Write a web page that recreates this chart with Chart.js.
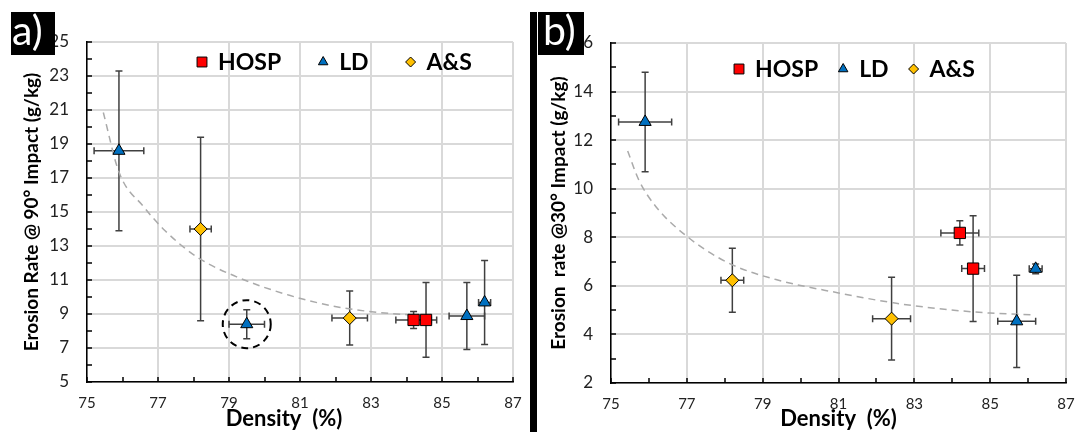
<!DOCTYPE html>
<html>
<head>
<meta charset="utf-8">
<script src="https://cdn.jsdelivr.net/npm/chart.js@4.4.0/dist/chart.umd.min.js"></script>
<style>
  body { margin: 0; background: #fff; width: 1075px; height: 432px; position: relative; overflow: hidden; }
  canvas { position: absolute; top: 0; }
  #chartA { left: 0; }
  #chartB { left: 537px; }
  .divider { position: absolute; left: 530px; top: 12px; width: 7px; height: 420px; background: #000; }
  .tag { position: absolute; top: 12px; height: 43px; background: #000; }
  .tag span { position: absolute; top: -6px; color: #fff; font-family: Lato, sans-serif; font-size: 41px; line-height: 48px; white-space: nowrap; }
</style>
</head>
<body>
<canvas id="chartA" width="530" height="432"></canvas>
<canvas id="chartB" width="538" height="432"></canvas>
<div class="divider"></div>
<div class="tag" style="left:11px;width:44px"><span style="left:1px">a)</span></div>
<div class="tag" style="left:538px;width:46px"><span style="left:5px">b)</span></div>
<script>
// density (%) of each sample, with its error
const densityHOSP = [84.2, 84.55];
const densityErrHOSP = [0.5, 0.3];
const densityLD = [75.9, 79.5, 85.7, 86.2];
const densityErrLD = [0.7, 0.5, 0.5, 0.17];
const densityAS = [78.2, 82.4];
const densityErrAS = [0.3, 0.5];

// erosion rate at 90 deg impact (g/kg)
const rate90HOSP = [8.65, 8.65];
const rate90ErrHOSP = [0.5, 2.2];
const rate90LD = [18.6, 8.4, 8.88, 9.68];
const rate90ErrLD = [4.7, 0.85, 1.97, 2.47];
const rate90AS = [14.0, 8.76];
const rate90ErrAS = [5.4, 1.59];

// erosion rate at 30 deg impact (g/kg), LD at 79.5% not tested
const rate30HOSP = [8.18, 6.71];
const rate30ErrHOSP = [0.5, 2.18];
const rate30LD = [12.75, null, 4.54, 6.7];
const rate30ErrLD = [2.05, null, 1.9, 0.2];
const rate30AS = [6.23, 4.65];
const rate30ErrAS = [1.32, 1.7];

// dashed trend lines
const fit90Density = [75.46, 75.9, 76.6, 77.2, 78.1, 79.2, 80.7, 82.1, 83.6, 84.35];
const fit90Rate = [20.85, 17.35, 15.3, 13.9, 12.35, 11.2, 10.1, 9.4, 9.02, 8.93];
const fit30Density = [75.44, 75.73, 76.18, 77.0, 78.1, 79.35, 81.0, 82.45, 83.9, 85.0, 86.1];
const fit30Rate = [11.55, 10.37, 9.27, 8.04, 6.94, 6.26, 5.71, 5.30, 5.02, 4.88, 4.81];

// tick labels
const xTicks = [75, 77, 79, 81, 83, 85, 87];
const yTicks90 = [5, 7, 9, 11, 13, 15, 17, 19, 21, 23, 25];
const yTicks30 = [2, 4, 6, 8, 10, 12, 14, 16];

const seriesNames = ['HOSP', 'LD', 'A&S'];

function toPoints(xs, xe, ys, ye) {
  return xs.map((x, i) => ({ x: x, y: ys[i], ex: xe[i], ey: ye[i] })).filter(p => p.y !== null);
}

function drawMarker(ctx, style, x, y, r) {
  ctx.beginPath();
  if (style === 'rect') {
    const h = r * Math.SQRT1_2;
    ctx.rect(x - h, y - h, 2 * h, 2 * h);
  } else if (style === 'triangle') {
    ctx.moveTo(x, y - r);
    ctx.lineTo(x + r * 0.866, y + r * 0.5);
    ctx.lineTo(x - r * 0.866, y + r * 0.5);
    ctx.closePath();
  } else {
    ctx.moveTo(x, y - r);
    ctx.lineTo(x + r, y);
    ctx.lineTo(x, y + r);
    ctx.lineTo(x - r, y);
    ctx.closePath();
  }
  ctx.fill();
  ctx.stroke();
}

const errorBars = {
  id: 'errorBars',
  beforeDatasetsDraw(chart) {
    const { ctx, scales: { x, y } } = chart;
    const cap = 3.5;
    ctx.save();
    ctx.strokeStyle = '#404040';
    ctx.lineWidth = 1.5;
    chart.data.datasets.forEach(ds => {
      if (!ds.inLegend) return;
      ds.data.forEach(p => {
        const cx = x.getPixelForValue(p.x), cy = y.getPixelForValue(p.y);
        const x0 = x.getPixelForValue(p.x - p.ex), x1 = x.getPixelForValue(p.x + p.ex);
        const y0 = y.getPixelForValue(p.y + p.ey), y1 = y.getPixelForValue(p.y - p.ey);
        ctx.beginPath();
        ctx.moveTo(x0, cy); ctx.lineTo(x1, cy);
        ctx.moveTo(x0, cy - cap); ctx.lineTo(x0, cy + cap);
        ctx.moveTo(x1, cy - cap); ctx.lineTo(x1, cy + cap);
        ctx.moveTo(cx, y0); ctx.lineTo(cx, y1);
        ctx.moveTo(cx - cap, y0); ctx.lineTo(cx + cap, y0);
        ctx.moveTo(cx - cap, y1); ctx.lineTo(cx + cap, y1);
        ctx.stroke();
      });
    });
    ctx.restore();
  }
};

const innerTicks = {
  id: 'innerTicks',
  beforeDatasetsDraw(chart) {
    const { ctx, chartArea, scales: { x, y } } = chart;
    ctx.save();
    ctx.strokeStyle = '#000';
    ctx.lineWidth = 1.5;
    ctx.beginPath();
    for (let v = x.min; v <= x.max; v++) {
      const px = Math.round(x.getPixelForValue(v));
      ctx.moveTo(px, chartArea.bottom);
      ctx.lineTo(px, chartArea.bottom - 5);
    }
    for (let v = y.min; v <= y.max; v++) {
      const py = Math.round(y.getPixelForValue(v));
      ctx.moveTo(chartArea.left, py);
      ctx.lineTo(chartArea.left + 5, py);
    }
    ctx.stroke();
    ctx.restore();
  }
};

const panelLegend = {
  id: 'panelLegend',
  afterDatasetsDraw(chart, args, opts) {
    const { ctx, chartArea } = chart;
    let xPos = chartArea.left + opts.start;
    ctx.save();
    ctx.font = 'bold 23px Lato';
    ctx.textBaseline = 'middle';
    ctx.lineWidth = 1;
    ctx.strokeStyle = '#000';
    chart.data.datasets.forEach(ds => {
      if (!ds.inLegend) return;
      ctx.fillStyle = ds.backgroundColor;
      drawMarker(ctx, ds.pointStyle, xPos, opts.y, ds.legendRadius);
      ctx.fillStyle = '#000';
      ctx.fillText(ds.label, xPos + 16, opts.y + 1);
      xPos += 16 + ctx.measureText(ds.label).width + opts.gap;
    });
    ctx.restore();
  }
};

const highlight = {
  id: 'highlight',
  afterDatasetsDraw(chart, args, opts) {
    if (!opts.show) return;
    const { ctx, scales: { x, y } } = chart;
    ctx.save();
    ctx.strokeStyle = '#000';
    ctx.lineWidth = 2;
    ctx.setLineDash([7, 5]);
    ctx.beginPath();
    ctx.arc(x.getPixelForValue(opts.x), y.getPixelForValue(opts.y), opts.radius, 0, Math.PI * 2);
    ctx.stroke();
    ctx.restore();
  }
};

function makeChart(id, p) {
  const markerSet = (label, style, color, r, lr, pts) => ({
    label: label, data: pts, inLegend: true, pointStyle: style,
    backgroundColor: color, borderColor: '#000', borderWidth: 1,
    pointRadius: r, pointHoverRadius: r, legendRadius: lr, showLine: false
  });
  return new Chart(document.getElementById(id), {
    type: 'scatter',
    data: {
      datasets: [
        markerSet(seriesNames[0], 'rect', '#ff0000', 8, 7, p.hosp),
        markerSet(seriesNames[1], 'triangle', '#0070c0', 7, 5.5, p.ld),
        markerSet(seriesNames[2], 'rectRot', '#ffc000', 6.5, 5, p.as),
        {
          label: 'fit', data: p.fitX.map((x, i) => ({ x: x, y: p.fitY[i] })),
          showLine: true, borderColor: '#aaaaaa', borderWidth: 1.5, borderDash: [7, 5],
          pointRadius: 0, cubicInterpolationMode: 'monotone', fill: false
        }
      ]
    },
    options: {
      responsive: false,
      animation: false,
      events: [],
      layout: { padding: p.padding },
      plugins: {
        legend: { display: false },
        tooltip: { enabled: false },
        panelLegend: p.legend,
        highlight: p.highlight
      },
      scales: {
        x: {
          type: 'linear', min: 75, max: 87,
          afterBuildTicks: s => { s.ticks = xTicks.map(v => ({ value: v })); },
          afterFit: s => { s.height = p.xHeight; s.paddingLeft = 0; s.paddingRight = 0; },
          grid: { color: '#d9d9d9', lineWidth: 2, drawTicks: false },
          border: { color: '#000', width: 1.5 },
          ticks: { font: { family: 'Lato', size: 15 }, color: '#222', padding: 12, maxRotation: 0, autoSkip: false },
          title: { display: true, text: p.xTitle, font: { family: 'Lato', size: 22, weight: 'bold' }, color: '#000', padding: 0 }
        },
        y: {
          type: 'linear', min: p.yTicks[0], max: p.yTicks[p.yTicks.length - 1],
          afterBuildTicks: s => { s.ticks = p.yTicks.map(v => ({ value: v })); },
          afterFit: s => { s.width = p.yWidth; s.paddingTop = 0; s.paddingBottom = 0; },
          grid: { color: '#d9d9d9', lineWidth: 2, drawTicks: false },
          border: { color: '#000', width: 1.5 },
          ticks: { font: { family: 'Lato', size: 17 }, color: '#222', padding: 18, autoSkip: false },
          title: { display: true, text: p.yTitle, font: { family: 'Lato', size: 19, weight: 'bold' }, color: '#000', padding: { top: p.yTitlePad, bottom: 0 } }
        }
      }
    },
    plugins: [innerTicks, errorBars, panelLegend, highlight]
  });
}

makeChart('chartA', {
  hosp: toPoints(densityHOSP, densityErrHOSP, rate90HOSP, rate90ErrHOSP),
  ld: toPoints(densityLD, densityErrLD, rate90LD, rate90ErrLD),
  as: toPoints(densityAS, densityErrAS, rate90AS, rate90ErrAS),
  fitX: fit90Density, fitY: fit90Rate,
  yTicks: yTicks90,
  xTitle: 'Density  (%)      ',
  yTitle: 'Erosion Rate @ 90° Impact (g/kg)',
  padding: { left: 0, right: 17, top: 42, bottom: 0 },
  yWidth: 87, xHeight: 50, yTitlePad: 20,
  legend: { start: 115, y: 62, gap: 42 },
  highlight: { show: true, x: densityLD[1], y: rate90LD[1], radius: 24 }
});

makeChart('chartB', {
  hosp: toPoints(densityHOSP, densityErrHOSP, rate30HOSP, rate30ErrHOSP),
  ld: toPoints(densityLD, densityErrLD, rate30LD, rate30ErrLD),
  as: toPoints(densityAS, densityErrAS, rate30AS, rate30ErrAS),
  fitX: fit30Density, fitY: fit30Rate,
  yTicks: yTicks30,
  xTitle: 'Density  (%)',
  yTitle: 'Erosion  rate @30° Impact (g/kg)',
  padding: { left: 0, right: 8, top: 43, bottom: 0 },
  yWidth: 74, xHeight: 49, yTitlePad: 10,
  legend: { start: 128, y: 69, gap: 25 },
  highlight: { show: false }
});
</script>
</body>
</html>
